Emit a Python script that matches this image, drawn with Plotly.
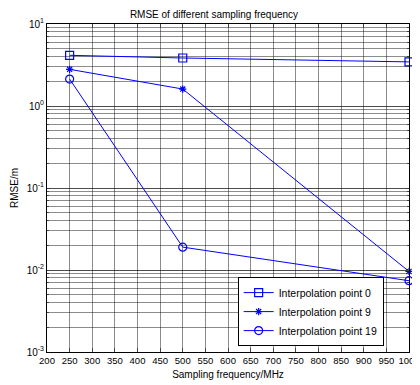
import plotly.graph_objects as go

freq = [250, 500, 1000]
rmse_p0 = [4.15, 3.85, 3.45]
rmse_p9 = [2.8, 1.61, 0.0096]
rmse_p19 = [2.13, 0.019, 0.0074]
names = ["Interpolation point 0", "Interpolation point 9", "Interpolation point 19"]
markers = ["square-open", "asterisk-open", "circle-open"]
ytick_vals = [1e-3, 1e-2, 1e-1, 1e0, 1e1]
ytick_text = ["10<sup>-3</sup>", "10<sup>-2</sup>", "10<sup>-1</sup>", "10<sup>0</sup>", "10<sup>1</sup>"]
xtick_vals = list(range(200, 1001, 50))

fig = go.Figure()
for ys, nm, mk in zip([rmse_p0, rmse_p9, rmse_p19], names, markers):
    fig.add_trace(go.Scatter(
        x=freq, y=ys, name=nm, mode="lines+markers",
        line=dict(color="#0000ff", width=1),
        marker=dict(symbol=mk, size=8 if mk != "asterisk-open" else 6,
                    color="#0000ff", line=dict(color="#0000ff", width=1.2)),
        cliponaxis=False,
    ))

# page body has an 8px default margin, so the figure is 8px smaller
W, H = 412, 377
grid = "rgba(0,0,0,0.45)"
fig.update_layout(
    width=W, height=H,
    margin=dict(l=39, r=11, t=16, b=33),
    paper_bgcolor="white", plot_bgcolor="white",
    font=dict(family="Liberation Sans, Arial", size=10, color="black"),
    title=dict(text="RMSE of different sampling frequency", x=0.5, xanchor="center",
               y=1 - 6 / H, yanchor="middle", font=dict(size=10)),
    showlegend=True,
    legend=dict(x=0.93, xanchor="right", y=0.018, yanchor="bottom",
                bordercolor="black", borderwidth=1, bgcolor="white",
                font=dict(size=10.5), tracegroupgap=0, itemwidth=30),
    xaxis=dict(range=[200, 1000], tickvals=xtick_vals, ticks="inside", ticklen=4,
               tickangle=0, automargin=False,
               showgrid=True, gridcolor=grid, gridwidth=1,
               showline=True, linecolor="black", linewidth=1, mirror="ticks",
               zeroline=False, tickfont=dict(size=9.5),
               title=dict(text="Sampling frequency/MHz", font=dict(size=10), standoff=5)),
    yaxis=dict(type="log", range=[-3, 1], tickvals=ytick_vals, ticktext=ytick_text,
               ticks="inside", ticklen=4, automargin=False,
               showgrid=True, gridcolor=grid, gridwidth=1,
               showline=True, linecolor="black", linewidth=1, mirror="ticks",
               zeroline=False, tickfont=dict(size=10),
               minor=dict(dtick="D1", showgrid=True, gridcolor=grid, ticks="inside", ticklen=2),
               title=dict(text="RMSE/m", font=dict(size=10), standoff=6)),
)
fig.write_html("out.html")
